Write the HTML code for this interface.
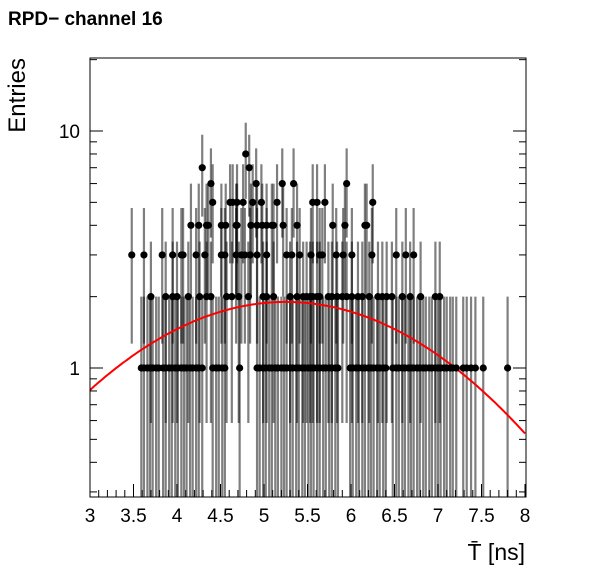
<!DOCTYPE html>
<html><head><meta charset="utf-8"><style>
body{margin:0;background:#fff;}
svg{display:block;font-family:"Liberation Sans",Arial,sans-serif;}
</style></head><body>
<svg id="chart" width="598" height="575" viewBox="0 0 598 575" xmlns="http://www.w3.org/2000/svg">
<text x="8" y="25" font-size="19" font-weight="bold">RPD− channel 16</text>
<g id="errs"></g>
<path id="fit" fill="none" stroke="#f00" stroke-width="2"></path>
<g id="pts"></g>
<rect x="90" y="58" width="436" height="439" fill="none" stroke="#000" stroke-width="1"></rect>
<g id="axes"></g>
<text x="17" y="58" font-size="24" text-anchor="end" transform="rotate(-90 17 58)" dy="8">Entries</text>
<text x="525" y="560" font-size="23" text-anchor="end">T̄ [ns]</text>
</svg>
<script>
const xTicks=[3,3.5,4,4.5,5,5.5,6,6.5,7,7.5,8];
const xTickLabels=["3","3.5","4","4.5","5","5.5","6","6.5","7","7.5","8"];
const yTicks=[1,10];
const yTickLabels=["1","10"];
const x1=[3.59,3.62,3.66,3.69,3.72,3.76,3.79,3.84,3.87,3.91,3.94,3.98,4.01,4.05,4.08,4.11,4.15,4.18,4.22,4.25,4.29,4.41,4.45,4.48,4.52,4.55,4.72,4.92,4.95,4.99,5.02,5.06,5.09,5.13,5.16,5.20,5.23,5.26,5.30,5.33,5.37,5.40,5.44,5.47,5.51,5.54,5.57,5.61,5.64,5.68,5.71,5.75,5.78,5.82,5.85,5.99,6.02,6.06,6.09,6.13,6.16,6.20,6.23,6.26,6.30,6.33,6.37,6.40,6.48,6.52,6.55,6.59,6.62,6.66,6.69,6.72,6.76,6.79,6.83,6.86,6.90,6.93,6.97,7.00,7.03,7.07,7.10,7.14,7.17,7.21,7.29,7.33,7.38,7.43,7.52,7.80];
const x2=[3.70,3.87,3.95,4.00,4.13,4.26,4.34,4.39,4.57,4.63,4.71,4.82,4.99,5.03,5.11,5.30,5.38,5.45,5.49,5.53,5.56,5.61,5.64,5.74,5.78,5.84,5.90,5.95,6.01,6.08,6.13,6.21,6.31,6.36,6.41,6.47,6.59,6.68,6.80,6.97,7.02];
const x3=[3.48,3.62,3.83,3.95,4.05,4.07,4.22,4.32,4.51,4.55,4.68,4.74,4.78,4.84,4.92,5.03,5.26,5.32,5.41,5.54,5.64,5.67,5.83,5.91,6.01,6.24,6.52,6.63,6.72];
const x4=[4.16,4.25,4.34,4.36,4.51,4.56,4.68,4.69,4.85,4.92,4.98,5.03,5.09,5.11,5.22,5.38,5.79,5.93,6.16,6.18];
const x5=[4.41,4.61,4.64,4.69,4.76,4.87,4.97,5.15,5.56,5.61,5.70,6.25];
const x6=[4.39,4.91,5.21,5.34,5.95];
const x7=[4.29,4.83];
const x8=[4.79];
const fitAmp=1.9, fitMean=5.25, fitSigma=1.72;
const NS="http://www.w3.org/2000/svg";
const L=90,R=526,T=58,B=497;
const xs=v=>90+(v-3)*87;
const ys=v=>368-237*Math.log10(v);
const errs=document.getElementById('errs'),pts=document.getElementById('pts'),axes=document.getElementById('axes');
function mk(tag,attrs,parent){const e=document.createElementNS(NS,tag);for(const k in attrs)e.setAttribute(k,attrs[k]);parent.appendChild(e);return e;}
const groups=[[x1,1],[x2,2],[x3,3],[x4,4],[x5,5],[x6,6],[x7,7],[x8,8]];
groups.forEach(([arr,c])=>{
  arr.forEach(x=>{
    const hi=c+Math.sqrt(c),lo=c-Math.sqrt(c);
    const yTop=Math.max(T,ys(hi)),yBot=lo<=0?B:Math.min(B,ys(lo));
    const ln=mk('line',{x1:xs(x),x2:xs(x),y1:yTop,y2:yBot,stroke:'#000','stroke-opacity':0.5,'stroke-width':2.2},errs);
    
    
    const p=mk('circle',{cx:xs(x),cy:ys(c),r:3.6,fill:'#000'},pts);
    
    
  });
});
let d='';
for(let i=0;i<=200;i++){const x=3+5*i/200;const v=fitAmp*Math.exp(-0.5*((x-fitMean)/fitSigma)**2);d+=(i?'L':'M')+xs(x).toFixed(1)+' '+ys(v).toFixed(1);}
document.getElementById('fit').setAttribute('d',d);
for(let v=3;v<=8.001;v+=0.1){
  const major=Math.abs(v*2-Math.round(v*2))<1e-6;const len=major?13:7;const X=xs(v);
  const t=mk('line',{x1:X,x2:X,y1:B,y2:B-len,stroke:'#000'},axes);
  
  
}
xTicks.forEach((v,i)=>{
  const t=mk('text',{x:xs(v),y:522,'font-size':19,'text-anchor':'middle'},axes);t.textContent=xTickLabels[i];
  
  
});
const yMinor=[0.3,0.4,0.5,0.6,0.7,0.8,0.9,2,3,4,5,6,7,8,9,20];
yMinor.concat(yTicks).forEach(v=>{
  const len=yTicks.includes(v)?13:7;const Y=ys(v);if(Y<T-0.5)return;
  const a=mk('line',{x1:L,x2:L+len,y1:Y,y2:Y,stroke:'#000'},axes);
  
  
  const b=mk('line',{x1:R,x2:R-len,y1:Y,y2:Y,stroke:'#000'},axes);
  
  
});
yTicks.forEach((v,i)=>{
  const t=mk('text',{x:80,y:ys(v)+7,'font-size':19,'text-anchor':'end'},axes);t.textContent=yTickLabels[i];
  
  
});
</script>
</body></html>
